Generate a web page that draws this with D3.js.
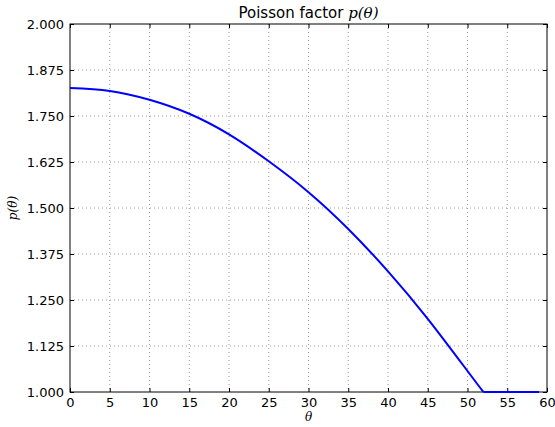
<!DOCTYPE html>
<html>
<head>
<meta charset="utf-8">
<script src="https://cdn.jsdelivr.net/npm/d3@7"></script>
<style>
  body { margin: 0; background: #fff; }
  svg { display: block; }
  .tick text { font-family: "DejaVu Sans", sans-serif; font-size: 13px; fill: #000; }
</style>
</head>
<body>
<svg width="555" height="427"></svg>
<script>
// Poisson factor p(theta)
var theta = [0, 5, 10, 15, 20, 25, 30, 35, 40, 45, 50, 52, 55, 59];
var pValues = [1.826, 1.818, 1.794, 1.756, 1.700, 1.627, 1.543, 1.443, 1.328, 1.199, 1.057, 1.000, 1.000, 1.000];
var xTicks = [0, 5, 10, 15, 20, 25, 30, 35, 40, 45, 50, 55, 60];
var yTicks = [1.000, 1.125, 1.250, 1.375, 1.500, 1.625, 1.750, 1.875, 2.000];
var kneeTheta = 52; // curve reaches 1.0 here, flat after

var svg = d3.select("svg");
var margin = {top: 24, right: 8, bottom: 35, left: 70};
var width = +svg.attr("width") - margin.left - margin.right,
    height = +svg.attr("height") - margin.top - margin.bottom;

var g = svg.append("g")
  .attr("transform", "translate(" + margin.left + "," + margin.top + ")");

var x = d3.scaleLinear().domain([0, 60]).range([0, width]);
var y = d3.scaleLinear().domain([1, 2]).range([height, 0]);

// grid lines (dotted)
g.append("g")
  .selectAll("line")
  .data(xTicks.slice(1, -1))
  .enter().append("line")
  .attr("x1", d => x(d)).attr("x2", d => x(d))
  .attr("y1", 0).attr("y2", height)
  .attr("stroke", "#9a9a9a")
  .attr("stroke-width", 1)
  .attr("stroke-dasharray", "1,3");
g.append("g")
  .selectAll("line")
  .data(yTicks.slice(1, -1))
  .enter().append("line")
  .attr("y1", d => y(d)).attr("y2", d => y(d))
  .attr("x1", 0).attr("x2", width)
  .attr("stroke", "#9a9a9a")
  .attr("stroke-width", 1)
  .attr("stroke-dasharray", "1,3");

// axes with inward ticks
var xAxis = g.append("g")
  .attr("transform", "translate(0," + height + ")")
  .call(d3.axisBottom(x).tickValues(xTicks).tickSizeInner(-4).tickSizeOuter(0).tickPadding(6).tickFormat(d3.format("d")));
var yAxis = g.append("g")
  .call(d3.axisLeft(y).tickValues(yTicks).tickSizeInner(-4).tickSizeOuter(0).tickPadding(6).tickFormat(d3.format(".3f")));
var xTop = g.append("g")
  .call(d3.axisTop(x).tickValues(xTicks).tickSizeInner(-4).tickSizeOuter(0).tickFormat(""));
var yRight = g.append("g")
  .attr("transform", "translate(" + width + ",0)")
  .call(d3.axisRight(y).tickValues(yTicks).tickSizeInner(-4).tickSizeOuter(0).tickFormat(""));
[xAxis, yAxis, xTop, yRight].forEach(function(a) {
  a.select(".domain").remove();
  a.selectAll(".tick line").attr("stroke", "#000");
});

// frame
g.append("rect")
  .attr("width", width).attr("height", height)
  .attr("fill", "none")
  .attr("stroke", "#000")
  .attr("stroke-width", 1);

// the curve: smooth part up to the knee, straight flat part after
var pts = theta.map((t, i) => [t, pValues[i]]);
var curvePart = pts.filter(p => p[0] <= kneeTheta);
var flatPart = pts.filter(p => p[0] >= kneeTheta);

g.append("path")
  .datum(curvePart)
  .attr("fill", "none")
  .attr("stroke", "#0000ff")
  .attr("stroke-width", 2)
  .attr("d", d3.line().curve(d3.curveNatural).x(d => x(d[0])).y(d => y(d[1])));
g.append("path")
  .datum(flatPart)
  .attr("fill", "none")
  .attr("stroke", "#0000ff")
  .attr("stroke-width", 2)
  .attr("d", d3.line().x(d => x(d[0])).y(d => y(d[1])));

// title
var title = svg.append("text")
  .attr("x", margin.left + width / 2)
  .attr("y", 18)
  .attr("text-anchor", "middle")
  .style("font-family", "DejaVu Sans, sans-serif")
  .style("font-size", "15px");
title.append("tspan").text("Poisson factor ");
title.append("tspan")
  .style("font-family", "DejaVu Serif, serif")
  .style("font-style", "italic")
  .text("p(θ)");

// axis labels
svg.append("text")
  .attr("x", margin.left + width / 2)
  .attr("y", 421)
  .attr("text-anchor", "middle")
  .style("font-family", "DejaVu Serif, serif")
  .style("font-style", "italic")
  .style("font-size", "12px")
  .text("θ");
svg.append("text")
  .attr("transform", "translate(17," + (margin.top + height / 2) + ") rotate(-90)")
  .attr("text-anchor", "middle")
  .style("font-family", "DejaVu Serif, serif")
  .style("font-style", "italic")
  .style("font-size", "12px")
  .text("p(θ)");
</script>
</body>
</html>
